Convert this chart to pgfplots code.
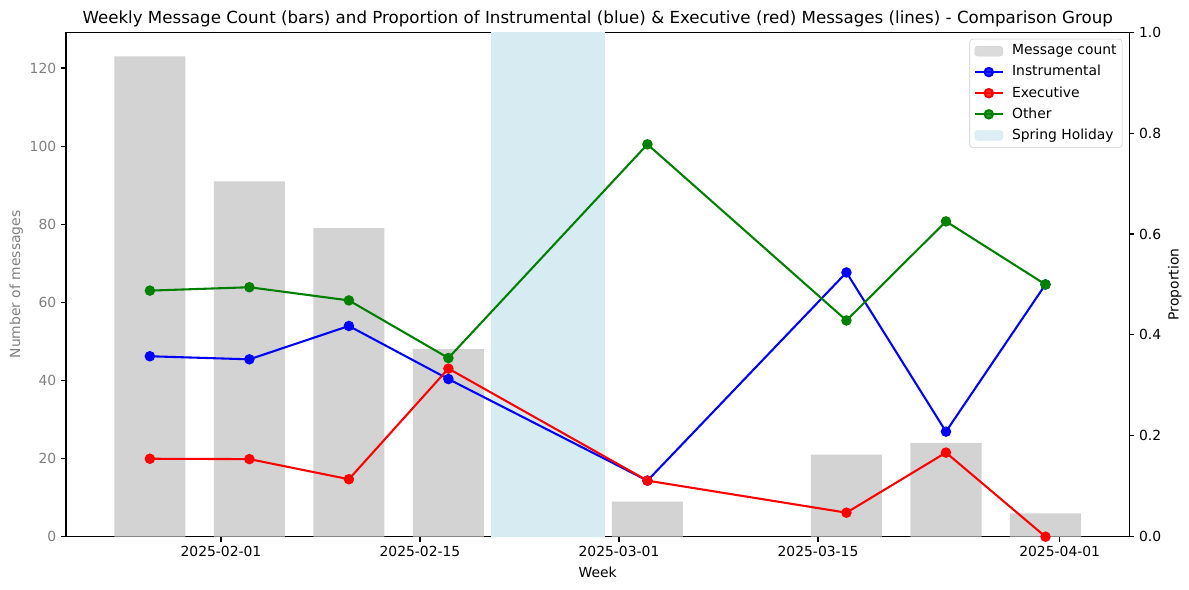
\documentclass[border=0pt]{standalone}
\usepackage{fontspec}
\setmainfont{DejaVu Sans}
\usepackage{pgfplots}
\pgfplotsset{compat=1.18}
\definecolor{barg}{HTML}{D3D3D3}
\definecolor{hol}{HTML}{D6EBF2}
\definecolor{mblue}{HTML}{0000FF}
\definecolor{mred}{HTML}{FF0000}
\definecolor{mgreen}{HTML}{008000}
\definecolor{lgedge}{HTML}{CCCCCC}
\pgfplotsset{
  every axis/.append style={
    scale only axis, width=765.6pt, height=363.2pt,
    xmin=20.1, xmax=94.9,
    axis line style={line width=0.8pt},
    tick align=outside, major tick length=3.5pt,
    every tick/.style={black, line width=0.8pt},
    tick label style={font=\fontsize{10}{12}\selectfont},
    label style={font=\fontsize{10}{12}\selectfont},
    /pgf/number format/assume math mode=true,
  }
}
\begin{document}
\begin{tikzpicture}[x=1pt,y=1pt]
\path[use as bounding box] (0,0) rectangle (856.08,424.8);
\begin{axis}[
  at={(47.52pt,38.38pt)}, anchor=south west,
  ymin=0, ymax=129.15,
  xtick={31,45,59,73,90},
  xticklabels={2025-02-01,2025-02-15,2025-03-01,2025-03-15,2025-04-01},
  xtick pos=bottom, ytick pos=left,
  ytick={0,20,40,60,80,100,120},
  yticklabel style={text=gray},
  xlabel={Week}, ylabel={Number of messages},
  ylabel style={text=gray, yshift=-2pt},
  title={Weekly Message Count (bars) and Proportion of Instrumental (blue) \& Executive (red) Messages (lines) - Comparison Group},
  title style={font=\fontsize{12}{14}\selectfont, yshift=-6pt},
]
\addplot[ybar, bar width=5, fill=barg, draw=none] coordinates {
 (26,123) (33,91) (40,79) (47,48) (61,9) (75,21) (82,24) (89,6)
};
\addplot[fill=hol, draw=none] coordinates {(50,0) (58,0) (58,200) (50,200)} -- cycle;
\end{axis}
\begin{axis}[
  at={(47.52pt,38.38pt)}, anchor=south west,
  ymin=0, ymax=1,
  axis x line=none, axis y line*=right,
  ytick={0,0.2,0.4,0.6,0.8,1.0},
  yticklabel style={/pgf/number format/.cd, fixed, fixed zerofill, precision=1},
  ylabel={Proportion},
  ylabel style={yshift=2pt},
  clip mode=individual,
  legend cell align=left,
  legend image code/.code={\draw[mark repeat=2,mark phase=2,#1] plot coordinates {(0pt,0pt) (10pt,0pt) (20pt,0pt)};},
  legend style={at={(1-5/765.6,1-4.8/363.2)}, anchor=north east,
    draw=lgedge, fill=white, fill opacity=0.8, text opacity=1, draw opacity=1,
    rounded corners=2pt, font=\fontsize{10}{12}\selectfont,
    row sep=3.6pt, inner sep=3pt,
    /tikz/every odd column/.append style={column sep=5pt},
    nodes={inner sep=1pt, text depth=0.2em}},
]
\addlegendimage{legend image code/.code={\fill[barg] (0pt,-3.5pt) rectangle (20pt,3.5pt);}}
\addlegendentry{Message count}
\addplot[mblue, line width=1.5pt, mark=*, mark size=3pt] coordinates {
 (26,0.3577) (33,0.3516) (40,0.4177) (47,0.3125) (61,0.1111) (75,0.5238) (82,0.2083) (89,0.5)
};
\addlegendentry{Instrumental}
\addplot[mred, line width=1.5pt, mark=*, mark size=3pt] coordinates {
 (26,0.1545) (33,0.1538) (40,0.1139) (47,0.3333) (61,0.1111) (75,0.0476) (82,0.1667) (89,0)
};
\addlegendentry{Executive}
\addplot[mgreen, line width=1.5pt, mark=*, mark size=3pt] coordinates {
 (26,0.4878) (33,0.4945) (40,0.4684) (47,0.3542) (61,0.7778) (75,0.4286) (82,0.625) (89,0.5)
};
\addlegendentry{Other}
\addlegendimage{legend image code/.code={\fill[hol] (0pt,-3.5pt) rectangle (20pt,3.5pt);}}
\addlegendentry{Spring Holiday}
\end{axis}
\end{tikzpicture}
\end{document}
